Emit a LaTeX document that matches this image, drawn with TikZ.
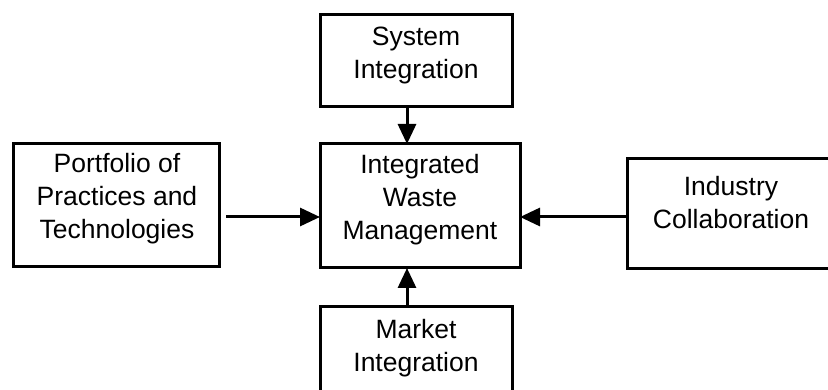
\documentclass[tikz,border=0pt]{standalone}
\usepackage{fontspec}
\setmainfont{Liberation Sans}
\usetikzlibrary{arrows.meta}
\begin{document}
\begin{tikzpicture}[x=1pt,y=-1pt,
  box/.style={draw=black,line width=3pt,rectangle,inner sep=0pt,outer sep=0pt},
  lbl/.style={align=center,inner sep=0pt,font=\fontsize{26.5}{33}\selectfont},
  arr/.style={line width=3pt,-{Triangle[length=20pt,width=18pt]}}]
\useasboundingbox (0,0) rectangle (828,390);
\clip (0,0) rectangle (828,390);
\node[box,minimum width=206pt,minimum height=123pt] (lp) at (116,205.5) {};
\node[box,minimum width=192pt,minimum height=92pt] (sys) at (416,61) {};
\node[box,minimum width=200pt,minimum height=124pt] (iwm) at (420,206) {};
\node[box,minimum width=192pt,minimum height=118pt] (mkt) at (416,366) {};
\node[box,minimum width=208pt,minimum height=110pt] (ind) at (731,214) {};
\node[lbl] (lpt) at (117,199) {Portfolio of\\Practices and\\Technologies};
\node[lbl] (syst) at (416,56) {System\\Integration};
\node[lbl] (iwmt) at (420,200) {Integrated\\Waste\\Management};
\node[lbl] (mktt) at (416,348) {Market\\Integration};
\node[lbl] (indt) at (731,203) {Industry\\Collaboration};
\draw[arr] ([xshift=-9pt]sys.south) -- ([xshift=-9pt]sys.south |- iwm.north);
\draw[arr] ([xshift=-9pt]mkt.north) -- ([xshift=-9pt]mkt.north |- iwm.south);
\draw[arr] ([xshift=7pt,yshift=-11.5pt]lp.east) -- ([yshift=-11.5pt]lp.east -| iwm.west);
\draw[arr] ([yshift=-3pt]ind.west) -- ([yshift=-3pt]ind.west -| iwm.east);
\end{tikzpicture}
\end{document}
